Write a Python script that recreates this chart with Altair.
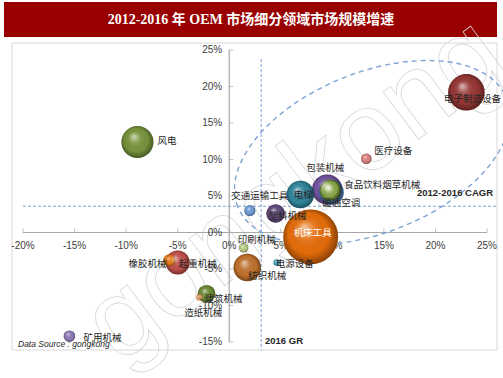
import altair as alt
import pandas as pd

# ---------------- data ----------------
names = ["机床工具", "电子制造设备", "风电", "包装机械", "电梯", "纺织机械", "暖通空调", "起重机械",
         "食品饮料烟草机械", "塑料机械", "建筑机械", "橡胶机械", "矿用机械", "医疗设备",
         "交通运输工具", "印刷机械", "电源设备", "造纸机械"]
gr_2016 = [7.9, 23.0, -8.9, 9.5, 6.9, 1.75, 9.9, -5.0, 9.8, 4.5, -2.2, -5.8, -15.5, 13.3, 2.0, 1.4, 4.6, -2.9]
cagr = [-0.6, 19.2, 12.4, 5.9, 5.2, -4.8, 5.5, -4.1, 5.8, 2.6, -8.4, -3.8, -14.2, 10.1, 3.0, -2.1, -4.1, -8.9]
market_size = [100, 44, 34, 30, 25, 25, 20.4, 19, 15, 11.5, 10.4, 4.7, 4.4, 3.7, 4.1, 3.1, 1.4, 1.3]

x_ticks = [-20, -15, -10, -5, 0, 5, 10, 15, 20, 25]
y_ticks = [-15, -10, -5, 0, 5, 10, 15, 20, 25]
avg_cagr = 3.6
avg_gr = 3.1

title_text = "2012-2016 年 OEM 市场细分领域市场规模增速"

# ---------------- styles ----------------
colors = {
    "机床工具": "#e46c0a", "电子制造设备": "#953735", "风电": "#77933c", "包装机械": "#7153a0",
    "电梯": "#31859c", "纺织机械": "#c0712d", "暖通空调": "#4f81bd", "起重机械": "#c0504d",
    "食品饮料烟草机械": "#8aab45", "塑料机械": "#604a7b", "建筑机械": "#6b8a34", "橡胶机械": "#f07c14",
    "矿用机械": "#8f7ab5", "医疗设备": "#d9827f", "交通运输工具": "#6d9bd3", "印刷机械": "#b5cc85",
    "电源设备": "#4bacc6", "造纸机械": "#f5a96a",
}
# label placement: name -> (dx, dy, align, color)
label_pos = {
    "风电": (20, -1, "left", "#262626"),
    "电子制造设备": (6, 7, "center", "#262626"),
    "医疗设备": (8, -8, "left", "#262626"),
    "包装机械": (-2, -21, "center", "#262626"),
    "食品饮料烟草机械": (14, -5, "left", "#262626"),
    "暖通空调": (10, 11, "center", "#262626"),
    "电梯": (3, 0, "center", "#262626"),
    "交通运输工具": (10, -15, "center", "#262626"),
    "塑料机械": (12, 2, "center", "#262626"),
    "机床工具": (2, -4, "center", "#ffffff"),
    "印刷机械": (13, -8, "center", "#262626"),
    "纺织机械": (20, 8, "center", "#262626"),
    "电源设备": (18, 2, "center", "#262626"),
    "起重机械": (20, 2, "center", "#262626"),
    "橡胶机械": (-22, 4, "center", "#262626"),
    "建筑机械": (17, 5, "center", "#262626"),
    "造纸机械": (4, 16, "center", "#262626"),
    "矿用机械": (33, 2, "center", "#262626"),
}

CJK = "Noto Sans CJK SC"
LAT = "Liberation Sans"
AXIS_C = "#a6a6a6"
DASH_C = "#7ea3d4"

df = pd.DataFrame({"name": names, "gr": gr_2016, "cagr": cagr, "scale": market_size})
xt = pd.DataFrame({"v": x_ticks, "lab": [f"{v}%" for v in x_ticks]})
yt = pd.DataFrame({"v": y_ticks, "lab": [f"{v}%" for v in y_ticks]})

xs = alt.Scale(domain=[-20, 25], nice=False, zero=False)
ys = alt.Scale(domain=[-15, 25], nice=False, zero=False)

def X(field, **kw):
    return alt.X(field, scale=xs, axis=None, **kw)

def Y(field, **kw):
    return alt.Y(field, scale=ys, axis=None, **kw)

one = pd.DataFrame({"a": [0]})

# frame
frame = alt.Chart(one).mark_rect(fill="white", stroke="#d9d9d9", strokeWidth=1).encode(
    x=alt.value(-11), x2=alt.value(474), y=alt.value(-7), y2=alt.value(300))

# title band
band = alt.Chart(one).mark_rect(fill="#990000").encode(
    x=alt.value(-19), x2=alt.value(474), y=alt.value(-48), y2=alt.value(-13))
title = alt.Chart(one).mark_text(font=f"Liberation Serif, {CJK}", fontSize=14, fontWeight="bold",
                                 color="white", align="center", baseline="middle").encode(
    x=alt.value(228), y=alt.value(-30), text=alt.value(title_text))

# watermark
watermark = alt.Chart(one).mark_text(font=LAT, fontSize=112, angle=323, fillOpacity=0,
                                     stroke="#d6d6d6", strokeWidth=0.8, align="center",
                                     baseline="middle").encode(
    x=alt.value(272), y=alt.value(140), text=alt.value("gongkong"))

# axes
x_line = alt.Chart(one).mark_rule(color=AXIS_C, strokeWidth=1.2).encode(
    x=alt.datum(-20, scale=xs, axis=None), x2=alt.datum(25), y=alt.datum(0, scale=ys, axis=None))
y_line = alt.Chart(one).mark_rule(color=AXIS_C, strokeWidth=1.2).encode(
    y=alt.datum(-15, scale=ys, axis=None), y2=alt.datum(25), x=alt.datum(0, scale=xs, axis=None))
x_tk = alt.Chart(xt).mark_tick(color=AXIS_C, size=4, thickness=1, orient="vertical", yOffset=-2).encode(
    x=X("v:Q"), y=alt.datum(0, scale=ys, axis=None))
y_tk = alt.Chart(yt).mark_tick(color=AXIS_C, size=4, thickness=1, orient="horizontal", xOffset=2).encode(
    y=Y("v:Q"), x=alt.datum(0, scale=xs, axis=None))
x_lab = alt.Chart(xt).mark_text(font=LAT, fontSize=10, color="#404040", dy=13, baseline="middle").encode(
    x=X("v:Q"), y=alt.datum(0, scale=ys, axis=None), text="lab:N")
y_lab = alt.Chart(yt).mark_text(font=LAT, fontSize=10, color="#404040", dx=-7, align="right",
                                baseline="middle").encode(
    y=Y("v:Q"), x=alt.datum(0, scale=xs, axis=None), text="lab:N")

# dashed reference lines
h_dash = alt.Chart(one).mark_rule(color=DASH_C, strokeWidth=1, strokeDash=[3, 2]).encode(
    y=alt.datum(avg_cagr, scale=ys, axis=None), x=alt.value(0), x2=alt.value(474))
v_dash = alt.Chart(one).mark_rule(color=DASH_C, strokeWidth=1, strokeDash=[3, 2]).encode(
    x=alt.datum(avg_gr, scale=xs, axis=None), y=alt.value(9), y2=alt.value(300))

# dashed ellipse (decorative)
k = 0.5523
r = 0.552
kr = round(k * r, 3)
ell_path = (f"M -1 0 C -1 {-kr} {-k} {-r} 0 {-r} C {k} {-r} 1 {-kr} 1 0 "
            f"C 1 {kr} {k} {r} 0 {r} C {-k} {r} -1 {kr} -1 0 Z")
ellipse = alt.Chart(one).mark_point(shape=ell_path, size=84100, angle=338, filled=False,
                                    stroke=DASH_C, strokeWidth=1.4, strokeDash=[5, 4], opacity=1).encode(
    x=alt.datum(13.87, scale=xs, axis=None), y=alt.datum(10.96, scale=ys, axis=None))

size_enc = alt.Size("scale:Q", scale=alt.Scale(domain=[0, 100], range=[0, 3019]), legend=None)
order_enc = alt.Order("scale:Q", sort="descending")

bubbles = alt.Chart(df).mark_circle(opacity=1).encode(
    x=X("gr:Q"), y=Y("cagr:Q"), size=size_enc, order=order_enc,
    color=alt.Color("name:N", scale=alt.Scale(domain=list(colors.keys()), range=list(colors.values())),
                    legend=None))

shade = {
    "gradient": "radial", "x1": 0.38, "y1": 0.32, "r1": 0, "x2": 0.5, "y2": 0.5, "r2": 0.55,
    "stops": [
        {"offset": 0, "color": "rgba(255,255,255,0.65)"},
        {"offset": 0.3, "color": "rgba(255,255,255,0.12)"},
        {"offset": 0.65, "color": "rgba(0,0,0,0)"},
        {"offset": 0.92, "color": "rgba(0,0,0,0.38)"},
        {"offset": 1, "color": "rgba(0,0,0,0.45)"},
    ],
}
highlight = alt.Chart(df).mark_circle(fill=shade, opacity=1).encode(
    x=X("gr:Q"), y=Y("cagr:Q"), size=size_enc, order=order_enc)

label_layers = []
for n in names:
    dx, dy, al, col = label_pos[n]
    label_layers.append(
        alt.Chart(df).transform_filter(alt.datum.name == n).mark_text(
            font=CJK, fontSize=9.5, dx=dx, dy=dy, align=al, baseline="middle", color=col).encode(
            x=X("gr:Q"), y=Y("cagr:Q"), text="name:N"))

ann_cagr = alt.Chart(one).mark_text(font=LAT, fontSize=9.5, fontWeight="bold", color="#262626",
                                    align="center", baseline="middle").encode(
    x=alt.value(432), y=alt.value(143), text=alt.value("2012-2016 CAGR"))
ann_gr = alt.Chart(one).mark_text(font=LAT, fontSize=9.5, fontWeight="bold", color="#262626",
                                  align="left", baseline="middle").encode(
    x=alt.value(242), y=alt.value(291), text=alt.value("2016 GR"))
ann_src = alt.Chart(one).mark_text(font=LAT, fontSize=8.5, fontStyle="italic", color="#262626",
                                   align="left", baseline="middle").encode(
    x=alt.value(-5), y=alt.value(294), text=alt.value("Data Source : gongkong"))

chart = alt.layer(
    frame, band, title, watermark, x_line, y_line, x_tk, y_tk, x_lab, y_lab, h_dash, v_dash, ellipse,
    bubbles, highlight, *label_layers, ann_cagr, ann_gr, ann_src
).properties(
    width=464, height=292,
    padding={"left": 23, "top": 50, "right": 16, "bottom": 36},
    autosize=alt.AutoSizeParams(type="none"),
).configure_view(stroke=None)

chart.save("out.html", embed_options={"renderer": "svg", "actions": False})
